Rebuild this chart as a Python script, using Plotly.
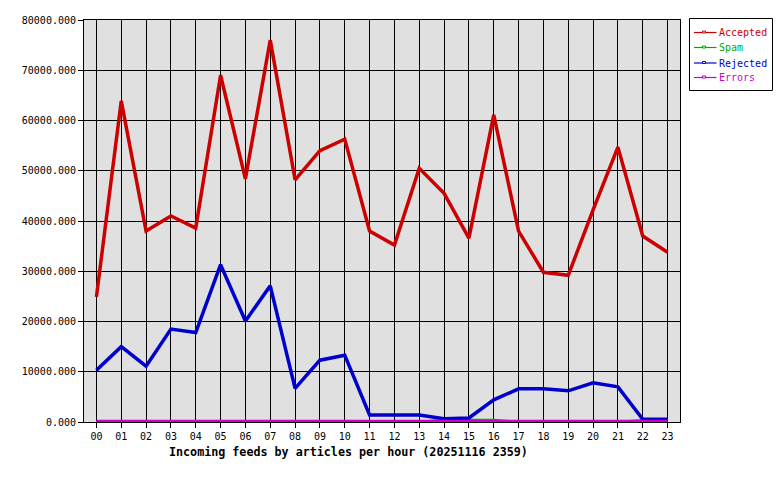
import plotly.graph_objects as go

hours = [f"{h:02d}" for h in range(24)]
accepted = [24900, 63900, 38000, 41000, 38600, 69000, 48400, 76000, 48200, 54000, 56300, 38000,
            35200, 50500, 45500, 36600, 61100, 38000, 29800, 29200, 42200, 54700, 37000, 33800]
spam = [0, 0, 0, 0, 0, 0, 0, 0, 0, 0, 0, 0,
        0, 0, 400, 400, 400, 0, 0, 0, 0, 0, 350, 350]
rejected = [10300, 15000, 11100, 18500, 17800, 31300, 20100, 27100, 6700, 12300, 13300, 1400,
            1400, 1400, 660, 800, 4400, 6600, 6600, 6200, 7800, 7000, 540, 540]
errors = [0] * 24

yticks = [0, 10000, 20000, 30000, 40000, 50000, 60000, 70000, 80000]
ytick_text = [f"{v}.000" for v in yticks]
title_text = "Incoming feeds by articles per hour (20251116 2359)"

series = [
    ("Accepted", accepted, "#cc0000", 3.5),
    ("Spam", spam, "#00aa00", 2.5),
    ("Rejected", rejected, "#0000cc", 3.5),
    ("Errors", errors, "#cc00cc", 4.5),
]

FONT = "DejaVu Sans Mono"
L, R, T, B = 84, 680, 20, 422
W, H = 780, 480


def px(x):
    return (x - L) / (R - L)


def py(y):
    return (B - y) / (B - T)


fig = go.Figure()
xidx = list(range(24))
for name, vals, col, w in series:
    fig.add_trace(go.Scatter(x=xidx, y=vals, mode="lines", line=dict(color=col, width=w),
                             name=name, showlegend=False, hoverinfo="skip"))

shapes = [dict(type="rect", xref="paper", yref="paper", x0=px(689.5), x1=px(772.5),
               y0=py(18.5), y1=py(90.5), line=dict(color="black", width=1), fillcolor="white")]
annotations = [dict(text=f"<b>{title_text}</b>", xref="paper", yref="paper",
                    x=px(348.5), y=py(452), xanchor="center", yanchor="middle",
                    showarrow=False, font=dict(family=FONT, size=11.7, color="black"))]
row_y = [32.5, 47.5, 63, 77.5]
for (name, vals, col, w), ry in zip(series, row_y):
    shapes.append(dict(type="line", xref="paper", yref="paper", x0=px(694), x1=px(716.5),
                       y0=py(ry), y1=py(ry), line=dict(color=col, width=1.2)))
    shapes.append(dict(type="rect", xref="paper", yref="paper", x0=px(702.5), x1=px(705.5),
                       y0=py(ry - 1.5), y1=py(ry + 0.5), line=dict(color=col, width=1),
                       fillcolor="white"))
    annotations.append(dict(text=name, xref="paper", yref="paper", x=px(717), y=py(ry),
                            xanchor="left", yanchor="middle", showarrow=False,
                            font=dict(family=FONT, size=10, color=col)))

fig.update_layout(
    width=W, height=H,
    margin=dict(l=L, r=W - R, t=T, b=H - B, autoexpand=False),
    paper_bgcolor="white", plot_bgcolor="#e0e0e0",
    font=dict(family=FONT, size=10, color="black"),
    showlegend=False,
    shapes=shapes,
    annotations=annotations,
)
fig.update_xaxes(range=[-0.5, 23.5], tickmode="array", tickvals=xidx, ticktext=hours,
                 showgrid=True, gridcolor="black", gridwidth=1,
                 ticks="outside", ticklen=5, tickcolor="black",
                 showline=True, linecolor="black", linewidth=1, mirror=True,
                 zeroline=False, tickfont=dict(family=FONT, size=10))
fig.update_yaxes(range=[0, 80000], tickmode="array", tickvals=yticks, ticktext=ytick_text,
                 showgrid=True, gridcolor="black", gridwidth=1,
                 ticks="outside", ticklen=5, tickcolor="black",
                 showline=True, linecolor="black", linewidth=1, mirror=True,
                 zeroline=False, tickfont=dict(family=FONT, size=10))

fig.write_html("out.html")
